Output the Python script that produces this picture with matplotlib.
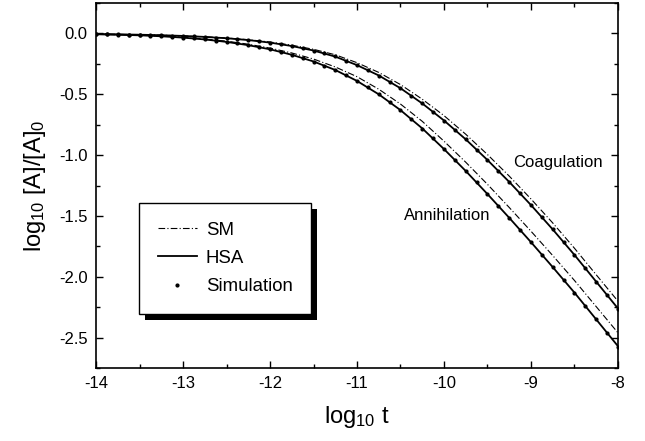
import numpy as np
import matplotlib
matplotlib.use("Agg")
import matplotlib.pyplot as plt
from matplotlib.ticker import MultipleLocator, FormatStrFormatter
from matplotlib.patches import Rectangle

plt.rcParams['font.family'] = ['Liberation Sans', 'DejaVu Sans']
plt.rcParams['mathtext.default'] = 'regular'
plt.rcParams['axes.unicode_minus'] = False

# log10 t for the model curves
logt = [-14.0, -13.75, -13.5, -13.25, -13.0, -12.75, -12.5, -12.25, -12.0,
        -11.75, -11.5, -11.25, -11.0, -10.75, -10.5, -10.25, -10.0,
        -9.75, -9.5, -9.25, -9.0, -8.75, -8.5, -8.25, -8.0]

# coagulation
coag_hsa = [-0.005, -0.007, -0.010, -0.014, -0.020, -0.028, -0.039, -0.054, -0.075,
            -0.103, -0.140, -0.190, -0.260, -0.345, -0.450, -0.575, -0.715,
            -0.870, -1.040, -1.220, -1.410, -1.610, -1.820, -2.040, -2.260]
coag_sm = [-0.005, -0.007, -0.010, -0.014, -0.020, -0.027, -0.037, -0.051, -0.070,
           -0.096, -0.130, -0.175, -0.240, -0.320, -0.420, -0.540, -0.675,
           -0.828, -0.995, -1.172, -1.360, -1.557, -1.765, -1.983, -2.200]

# annihilation
ann_hsa = [-0.006, -0.010, -0.015, -0.023, -0.034, -0.049, -0.069, -0.096, -0.130,
           -0.175, -0.230, -0.300, -0.390, -0.500, -0.630, -0.780, -0.950,
           -1.130, -1.320, -1.515, -1.715, -1.920, -2.130, -2.350, -2.570]
ann_sm = [-0.006, -0.010, -0.014, -0.021, -0.031, -0.045, -0.063, -0.088, -0.120,
          -0.160, -0.210, -0.275, -0.355, -0.458, -0.580, -0.722, -0.885,
          -1.058, -1.240, -1.430, -1.625, -1.825, -2.030, -2.245, -2.460]

# simulation points (every 0.125 in log10 t)
sim_logt = np.linspace(-14, -8, 49)
coag_sim = [-0.004, -0.006, -0.007, -0.009, -0.011, -0.012, -0.015, -0.017, -0.021,
            -0.024, -0.029, -0.033, -0.040, -0.045, -0.053, -0.064, -0.076, -0.087,
            -0.102, -0.122, -0.141, -0.163, -0.189, -0.225, -0.259, -0.302, -0.346,
            -0.395, -0.451, -0.512, -0.574, -0.643, -0.716, -0.792, -0.869, -0.955,
            -1.041, -1.128, -1.221, -1.315, -1.411, -1.508, -1.611, -1.715, -1.821,
            -1.928, -2.041, -2.150, -2.262]
ann_sim = [-0.006, -0.008, -0.010, -0.012, -0.015, -0.019, -0.023, -0.028, -0.034,
           -0.041, -0.049, -0.058, -0.069, -0.082, -0.096, -0.112, -0.131, -0.152,
           -0.176, -0.202, -0.231, -0.264, -0.301, -0.344, -0.391, -0.443, -0.501,
           -0.564, -0.631, -0.704, -0.781, -0.863, -0.951, -1.039, -1.131, -1.224,
           -1.321, -1.417, -1.516, -1.616, -1.716, -1.817, -1.921, -2.024, -2.131,
           -2.240, -2.351, -2.461, -2.575]

fig = plt.figure(figsize=(6.45, 4.41), dpi=100)
ax = fig.add_axes([0.149, 0.1655, 0.809, 0.8275])

dashdot = (0, (6, 2, 1, 2))
ax.plot(logt, coag_sm, color='k', lw=0.8, ls=dashdot, label='SM')
ax.plot(logt, coag_hsa, color='k', lw=1.3, label='HSA')
ax.plot(sim_logt, coag_sim, ls='none', marker='o', ms=2.0, color='k', label='Simulation')
ax.plot(logt, ann_sm, color='k', lw=0.8, ls=dashdot)
ax.plot(logt, ann_hsa, color='k', lw=1.3)
ax.plot(sim_logt, ann_sim, ls='none', marker='o', ms=2.0, color='k')

ax.text(-8.69, -1.06, 'Coagulation', fontsize=12, ha='center', va='center')
ax.text(-9.96, -1.50, 'Annihilation', fontsize=12, ha='center', va='center')

ax.set_xlim(-14, -8)
ax.set_ylim(-2.75, 0.25)
ax.xaxis.set_major_locator(MultipleLocator(1))
ax.xaxis.set_minor_locator(MultipleLocator(0.5))
ax.yaxis.set_major_locator(MultipleLocator(0.5))
ax.yaxis.set_minor_locator(MultipleLocator(0.25))
ax.yaxis.set_major_formatter(FormatStrFormatter('%.1f'))
ax.xaxis.set_major_formatter(FormatStrFormatter('%d'))
ax.tick_params(which='both', direction='in', top=True, right=True, width=1, labelsize=12)
ax.tick_params(which='major', length=5, pad=6)
ax.tick_params(which='minor', length=3)
for s in ax.spines.values():
    s.set_linewidth(1.2)

ax.set_xlabel('log$_{10}$ t', fontsize=17, labelpad=9)
ax.set_ylabel('log$_{10}$ [A]/[A]$_0$', fontsize=17, labelpad=8)

leg = ax.legend(loc='upper left', bbox_to_anchor=(0.082, 0.452), borderaxespad=0,
                fontsize=13.4, frameon=True, fancybox=False, edgecolor='k', framealpha=1,
                borderpad=1.0, handlelength=2.1, labelspacing=0.6, handletextpad=0.5,
                numpoints=1)
leg.get_frame().set_linewidth(1.0)
leg.set_zorder(5)

fig.canvas.draw()
bb = leg.get_window_extent().transformed(fig.transFigure.inverted())
dx, dy = 6 / 645, 6 / 441
shadow = Rectangle((bb.x0 + dx, bb.y0 - dy), bb.width, bb.height, transform=fig.transFigure,
                   facecolor='k', edgecolor='none', zorder=4.9)
shadow.set_clip_on(False)
ax.add_artist(shadow)

fig.savefig('out.png', dpi=100)
